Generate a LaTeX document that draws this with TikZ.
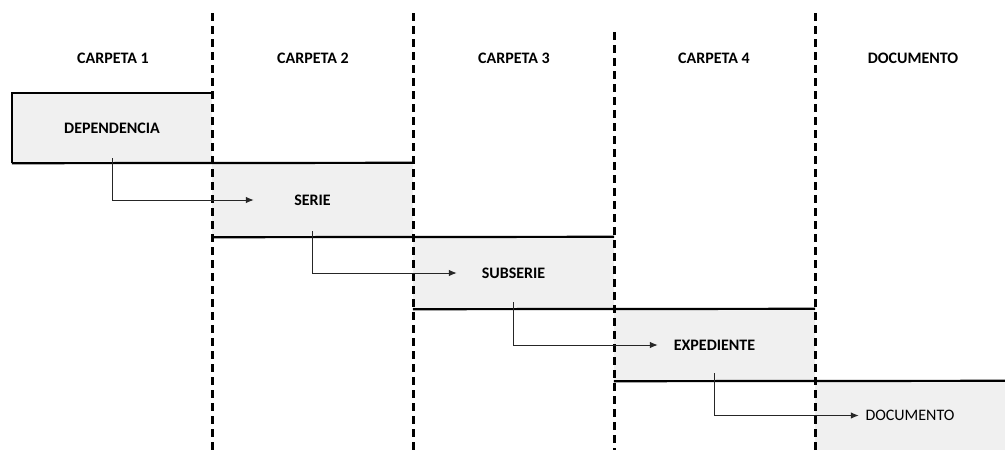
\documentclass[tikz,border=0pt]{standalone}
\usepackage{fontspec}
\setmainfont{Carlito}
\usetikzlibrary{arrows.meta}
\begin{document}
\begin{tikzpicture}[x=1pt,y=-1pt,
  caja/.style={fill=black!6,minimum width=201pt,minimum height=72pt,inner sep=0pt,font=\fontsize{16}{19}\selectfont\bfseries},
  titulo/.style={font=\fontsize{16}{19}\selectfont\bfseries},
  borde/.style={line width=2.2pt},
  divisor/.style={line width=3pt,dash pattern=on 8pt off 5pt},
  flecha/.style={-{Latex[length=8pt,width=6.5pt]},black!85,line width=1pt}]
\useasboundingbox (0,0) rectangle (1005,450);
% cajas
\node[caja,minimum width=200pt,minimum height=70pt] (dep) at (112,128) {DEPENDENCIA};
\node[caja,minimum height=74pt] (serie) at (312.5,200) {SERIE};
\node[caja] (subserie) at (513.5,273) {SUBSERIE};
\node[caja] (exped) at (714.5,345) {EXPEDIENTE};
\node[caja,font=\fontsize{16}{19}\selectfont,minimum width=190pt,minimum height=69pt] (doc) at (910,415.5) {DOCUMENTO};
% bordes
\draw[borde] (dep.south west) |- (dep.north east);
\draw[borde] (dep.south west) -- (serie.north east);
\draw[borde] (serie.south west) -- (subserie.north east);
\draw[borde] (subserie.south west) -- (exped.north east);
\draw[borde] (exped.south west) -- (doc.north east);
% columnas
\foreach \x/\t in {212/13,413/13,614/32,815/13}
  \draw[divisor] (\x,\t) -- (\x,450);
\foreach \x/\texto [count=\i] in {113/CARPETA 1,313/CARPETA 2,514/CARPETA 3,714/CARPETA 4,913/DOCUMENTO}
  \node[titulo] (car\i) at (\x,58) {\texto};
% flechas
\draw[flecha] ([yshift=5pt]dep.south) |- ([xshift=42pt]serie.west);
\draw[flecha] ([yshift=6pt]serie.south) |- ([xshift=44pt]subserie.west);
\draw[flecha] ([yshift=7pt]subserie.south) |- ([xshift=44pt]exped.west);
\draw[flecha] ([yshift=8pt]exped.south) |- ([xshift=44pt]doc.west);
\end{tikzpicture}
\end{document}
